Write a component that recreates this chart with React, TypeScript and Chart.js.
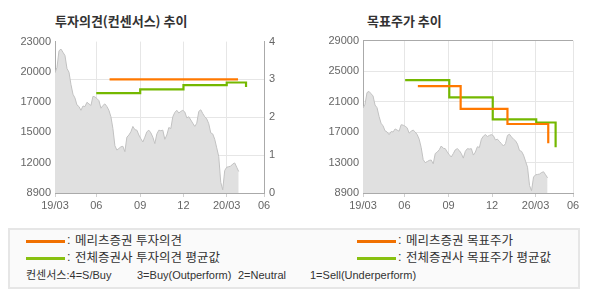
import React, { useEffect, useRef } from "react";
import { Chart, registerables } from "chart.js";

Chart.register(...registerables);

// ---- axis data ----
const monthTickDays = [0, 62, 128, 193, 258, 314];
const monthTickLabels = ["19/03", "06", "09", "12", "20/03", "06"];

const leftPriceTickValues = [8900, 11720, 14540, 17360, 20180, 23000];
const leftPriceTickLabels = ["8900", "12000", "15000", "17000", "20000", "23000"];
const rightPriceTickValues = [8900, 12920, 16940, 20960, 24980, 29000];
const rightPriceTickLabels = ["8900", "13000", "17000", "21000", "25000", "29000"];

// ---- price series (trading-day samples, every 3 days) ----
const PRICE_STEP_DAYS = 3;
const priceValues = [
  20100, 20600, 22150, 22300, 22000, 21700, 20500, 20150, 19000, 18100,
  17750, 17100, 16950, 16600, 17000, 16950, 17350, 17200, 17050, 17900,
  17850, 17700, 17500, 16800, 17050, 17200, 16950, 16600, 16000, 14900,
  13300, 12900, 13050, 13200, 13250, 12750, 14100, 14300, 14600, 15100,
  14800, 14750, 14300, 13950, 13650, 14100, 14600, 14750, 14500, 14100,
  13500, 14400, 14750, 14700, 14750, 13900, 14300, 15000, 14900, 16000,
  16400, 16600, 16350, 16500, 16600, 16450, 15900, 16000, 15700, 15400,
  15100, 15400, 16500, 16650, 16300, 16000, 15800, 15350, 14500, 14400,
  13900, 13100, 12300, 9900, 9200, 11000, 11300, 11350, 11400, 11600,
  11700, 11300, 10900,
];

// ---- investment opinion (right axis 0..4) ----
const meritzOpinionDays = [82, 275];
const meritzOpinionValues = [3, 3];
const consensusOpinionDays = [62, 128, 193, 258, 287, 287];
const consensusOpinionValues = [2.64, 2.74, 2.85, 2.92, 2.92, 2.8];

// ---- target price ----
const meritzTargetDays = [82, 146, 216, 277, 277];
const meritzTargetValues = [23000, 20000, 18000, 18000, 15450];
const consensusTargetDays = [63, 129, 194, 259, 288, 288];
const consensusTargetValues = [23800, 21500, 18600, 18200, 18200, 14950];

const ORANGE = "#ff7800";
const GREEN = "#74b800";
const GRID = "#e6e6e6";
const AXIS = "#aaaaaa";
const TRANSPARENT = "rgba(0,0,0,0)";
const tickFont = { family: "'Liberation Sans', Arial, sans-serif", size: 11 };
const tickColor = "#666666";

const pricePoints = () =>
  priceValues.map((v, i) => ({ x: i * PRICE_STEP_DAYS, y: v }));
const zip = (xs: number[], ys: number[]) => xs.map((x, i) => ({ x, y: ys[i] }));

function xScale(lastGridColor: string) {
  return {
    type: "linear" as const,
    min: monthTickDays[0],
    max: monthTickDays[monthTickDays.length - 1],
    afterBuildTicks: (s: any) => {
      s.ticks = monthTickDays.map((v) => ({ value: v }));
    },
    afterFit: (s: any) => {
      s.height = 22;
    },
    ticks: {
      autoSkip: false,
      maxRotation: 0,
      font: tickFont,
      color: tickColor,
      padding: 2,
      callback: (_v: any, i: number) => monthTickLabels[i],
    },
    grid: {
      color: (ctx: any) =>
        ctx.index === 0
          ? TRANSPARENT
          : ctx.index === monthTickDays.length - 1
          ? lastGridColor
          : GRID,
      tickColor: "#d0d0d0",
      tickLength: 4,
      lineWidth: 1,
    },
    border: { color: AXIS, width: 1 },
  };
}

function priceDataset(axis: string) {
  return {
    type: "line" as const,
    data: pricePoints(),
    yAxisID: axis,
    borderColor: "#c2c2c2",
    borderWidth: 1,
    backgroundColor: "#e0e0e0",
    fill: "start",
    pointRadius: 0,
    tension: 0,
    order: 10,
  };
}

function stepDataset(points: { x: number; y: number }[], color: string, axis: string) {
  return {
    type: "line" as const,
    data: points,
    yAxisID: axis,
    borderColor: color,
    borderWidth: 2.2,
    pointRadius: 0,
    fill: false,
    stepped: "before" as const,
    borderCapStyle: "butt" as const,
    borderJoinStyle: "miter" as const,
    order: 1,
  };
}

function OpinionChart() {
  const ref = useRef<HTMLCanvasElement>(null);
  useEffect(() => {
    if (!ref.current) return;
    const chart = new Chart(ref.current, {
      type: "line",
      data: {
        datasets: [
          stepDataset(zip(meritzOpinionDays, meritzOpinionValues), ORANGE, "y1"),
          stepDataset(zip(consensusOpinionDays, consensusOpinionValues), GREEN, "y1"),
          priceDataset("y"),
        ] as any,
      },
      options: {
        animation: false,
        responsive: false,
        devicePixelRatio: 1,
        layout: { padding: { top: 11, left: 0, right: 0, bottom: 0 } },
        plugins: { legend: { display: false }, tooltip: { enabled: false } },
        scales: {
          x: xScale(TRANSPARENT) as any,
          y: {
            type: "linear",
            position: "left",
            min: leftPriceTickValues[0],
            max: leftPriceTickValues[leftPriceTickValues.length - 1],
            afterBuildTicks: (s: any) => {
              s.ticks = leftPriceTickValues.map((v) => ({ value: v }));
            },
            afterFit: (s: any) => {
              s.width = 55;
            },
            ticks: {
              font: tickFont,
              color: tickColor,
              padding: 4,
              callback: (_v: any, i: number) => leftPriceTickLabels[i],
            },
            grid: { display: false, drawTicks: false },
            border: { color: AXIS, width: 1 },
          } as any,
          y1: {
            type: "linear",
            position: "right",
            min: 0,
            max: 4,
            afterFit: (s: any) => {
              s.width = 31;
            },
            ticks: { stepSize: 1, font: tickFont, color: tickColor, padding: 5 },
            grid: {
              drawTicks: false,
              color: (ctx: any) =>
                ctx.tick && (ctx.tick.value === 4 || ctx.tick.value === 0) ? TRANSPARENT : GRID,
            },
            border: { color: AXIS, width: 1 },
          } as any,
        },
      },
    });
    return () => chart.destroy();
  }, []);
  return (
    <canvas
      ref={ref}
      width={295}
      height={185}
      style={{ position: "absolute", left: 0, top: 30, width: 295, height: 185 }}
    />
  );
}

function TargetChart() {
  const ref = useRef<HTMLCanvasElement>(null);
  useEffect(() => {
    if (!ref.current) return;
    const n = rightPriceTickValues.length;
    const chart = new Chart(ref.current, {
      type: "line",
      data: {
        datasets: [
          stepDataset(zip(meritzTargetDays, meritzTargetValues), ORANGE, "y"),
          stepDataset(zip(consensusTargetDays, consensusTargetValues), GREEN, "y"),
          priceDataset("y"),
        ] as any,
      },
      options: {
        animation: false,
        responsive: false,
        devicePixelRatio: 1,
        layout: { padding: { top: 9, left: 0, right: 17, bottom: 0 } },
        plugins: { legend: { display: false }, tooltip: { enabled: false } },
        scales: {
          x: xScale(GRID) as any,
          y: {
            type: "linear",
            position: "left",
            min: rightPriceTickValues[0],
            max: rightPriceTickValues[n - 1],
            afterBuildTicks: (s: any) => {
              s.ticks = rightPriceTickValues.map((v) => ({ value: v }));
            },
            afterFit: (s: any) => {
              s.width = 68;
            },
            ticks: {
              font: tickFont,
              color: tickColor,
              padding: 4,
              callback: (_v: any, i: number) => rightPriceTickLabels[i],
            },
            grid: {
              drawTicks: false,
              color: (ctx: any) =>
                ctx.index === 0 ? TRANSPARENT : ctx.index === n - 1 ? AXIS : GRID,
            },
            border: { color: AXIS, width: 1 },
          } as any,
        },
      },
    });
    return () => chart.destroy();
  }, []);
  return (
    <canvas
      ref={ref}
      width={295}
      height={185}
      style={{ position: "absolute", left: 295, top: 30, width: 295, height: 185 }}
    />
  );
}

const titleStyle: React.CSSProperties = {
  position: "absolute",
  top: 14,
  fontFamily: "'Noto Sans CJK KR', sans-serif",
  fontWeight: 700,
  fontSize: 13,
  lineHeight: "13px",
  color: "#333",
  whiteSpace: "nowrap",
};

const legendFont = "'Liberation Sans', 'Noto Sans CJK KR', sans-serif";
const legendText: React.CSSProperties = {
  position: "absolute",
  fontFamily: legendFont,
  fontSize: 12.5,
  lineHeight: "12px",
  color: "#333",
  whiteSpace: "nowrap",
};
const noteText: React.CSSProperties = {
  position: "absolute",
  top: 270,
  fontFamily: legendFont,
  fontSize: 11,
  lineHeight: "11px",
  color: "#333",
  whiteSpace: "nowrap",
};

function LegendRow(props: { x: number; y: number; color: string; label: string }) {
  const { x, y, color, label } = props;
  return (
    <>
      <div
        style={{
          position: "absolute",
          left: x,
          top: y - 1.5,
          width: 39,
          height: 3,
          background: color,
        }}
      />
      <span style={{ ...legendText, left: x + 41, top: y - 7 }}>:</span>
      <span style={{ ...legendText, left: x + 49, top: y - 6 }}>{label}</span>
    </>
  );
}

export default function App() {
  return (
    <div
      style={{
        position: "absolute",
        left: 0,
        top: 0,
        width: 590,
        height: 300,
        background: "#fff",
        overflow: "hidden",
      }}
    >
      <div style={{ ...titleStyle, left: 55 }}>투자의견(컨센서스) 추이</div>
      <div style={{ ...titleStyle, left: 367 }}>목표주가 추이</div>
      <OpinionChart />
      <TargetChart />
      <div
        style={{
          position: "absolute",
          left: 8,
          top: 228,
          width: 568,
          height: 57,
          border: "2px solid #e6e6e6",
          background: "#fafafa",
        }}
      />
      <LegendRow x={26} y={241} color="#f07000" label="메리츠증권 투자의견" />
      <LegendRow x={26} y={258} color="#88c010" label="전체증권사 투자의견 평균값" />
      <LegendRow x={357} y={241} color="#f07000" label="메리츠증권 목표주가" />
      <LegendRow x={357} y={258} color="#88c010" label="전체증권사 목표주가 평균값" />
      <span style={{ ...noteText, left: 26 }}>컨센서스:4=S/Buy</span>
      <span style={{ ...noteText, left: 137 }}>3=Buy(Outperform)</span>
      <span style={{ ...noteText, left: 238 }}>2=Neutral</span>
      <span style={{ ...noteText, left: 310 }}>1=Sell(Underperform)</span>
    </div>
  );
}
